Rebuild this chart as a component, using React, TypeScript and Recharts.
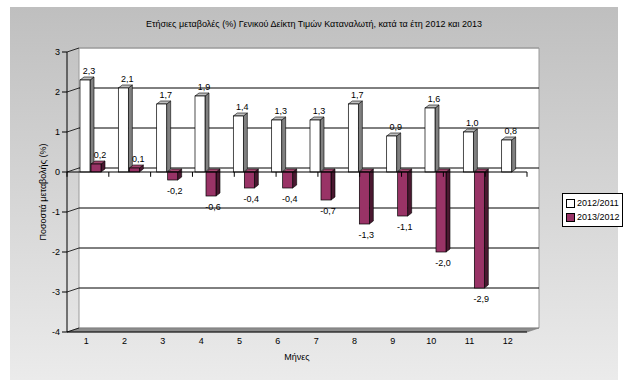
import React from 'react';
import {
  BarChart,
  Bar,
  XAxis,
  YAxis,
  CartesianGrid,
  ReferenceLine,
  Legend,
  LabelList,
} from 'recharts';

// Data
const months = ['1', '2', '3', '4', '5', '6', '7', '8', '9', '10', '11', '12'];
const change2012 = [2.3, 2.1, 1.7, 1.9, 1.4, 1.3, 1.3, 1.7, 0.9, 1.6, 1.0, 0.8];
const change2013 = [0.2, 0.1, -0.2, -0.6, -0.4, -0.4, -0.7, -1.3, -1.1, -2.0, -2.9, null];
const seriesNames = ['2012/2011', '2013/2012'];
const yTicks = [-4, -3, -2, -1, 0, 1, 2, 3];
const boundaryTicks = [0, 1, 2, 3, 4, 5, 6, 7, 8, 9, 10, 11, 12];

const title =
  'Ετήσιες μεταβολές (%) Γενικού Δείκτη Τιμών Καταναλωτή, κατά τα έτη 2012 και 2013';
const yLabel = 'Ποσοστά μεταβολής (%)';
const xLabel = 'Μήνες';

const data = months.map((m, i) => ({
  month: m,
  a: change2012[i],
  b: change2013[i],
}));

// Layout
const W = 630;
const H = 389;
const Y_AXIS_W = 30;
const X_AXIS_H = 30;
const margin = { top: 52, right: 103, bottom: 27, left: 37 };
const plot = {
  left: margin.left + Y_AXIS_W,
  top: margin.top,
  right: W - margin.right,
  bottom: H - margin.bottom - X_AXIS_H,
};
// depth of the back wall
const DX = 12;
const DY = -4;
// bar depth
const BD_X = 4;
const BD_Y = -3;
const SHIFT = 4;
// tick marks hanging under the zero line (in value units)
const ZERO_TICK = 0.12;

const FONT = '"Liberation Sans", Arial, sans-serif';

const fmt = (v: number) => v.toFixed(1).replace('.', ',');

const makeShape = (front: string, side: string, topFill: string) => (p: any) => {
  const { x, y, width, height } = p;
  if (!height || !isFinite(y)) return <g />;
  const t = Math.min(y, y + height);
  const b = Math.max(y, y + height);
  const l = x + SHIFT;
  const r = l + width;
  return (
    <g>
      <polygon
        points={`${r},${t} ${r + BD_X},${t + BD_Y} ${r + BD_X},${b + BD_Y} ${r},${b}`}
        fill={side}
        stroke="#000"
        strokeWidth={0.6}
      />
      <polygon
        points={`${l},${t} ${l + BD_X},${t + BD_Y} ${r + BD_X},${t + BD_Y} ${r},${t}`}
        fill={topFill}
        stroke="#000"
        strokeWidth={0.6}
      />
      <rect x={l} y={t} width={width} height={b - t} fill={front} stroke="#000" strokeWidth={0.7} />
    </g>
  );
};

const whiteBar = makeShape('#ffffff', '#808080', '#c0c0c0');
const purpleBar = makeShape('#993366', '#4a1830', '#a3476f');

const renderValue = (p: any) => {
  const { x, y, width, height, value } = p;
  if (value == null) return null;
  const t = Math.min(y, y + height);
  const b = Math.max(y, y + height);
  const neg = value < 0;
  const cx = x + SHIFT + width / 2 + (neg ? 2 : 4);
  const cy = neg ? b + 11 : t - 9;
  return (
    <text x={cx} y={cy} textAnchor="middle" dominantBaseline="central" fontSize={9} fontFamily={FONT} fill="#000">
      {fmt(value)}
    </text>
  );
};

const gridLine = (p: any) => {
  const { x1, x2, y1 } = p;
  const isTop = Math.abs(y1 - plot.top) < 1;
  const isBottom = Math.abs(y1 - plot.bottom) < 1;
  return (
    <g key={p.key}>
      {!isBottom && (
        <line
          x1={x1 + DX}
          x2={x2 + DX}
          y1={y1 + DY}
          y2={y1 + DY}
          stroke={isTop ? '#9a9a9a' : '#000'}
          strokeWidth={1}
        />
      )}
      <line x1={x1} y1={y1} x2={x1 + DX} y2={y1 + DY} stroke="#000" strokeWidth={0.8} />
    </g>
  );
};

const renderYLabel = (p: any) => {
  const vb = p.viewBox;
  const cx = vb.x + 6;
  const cy = vb.y + vb.height / 2;
  return (
    <text
      x={cx}
      y={cy}
      transform={`rotate(-90, ${cx}, ${cy})`}
      textAnchor="middle"
      dominantBaseline="central"
      fontSize={9}
      fontFamily={FONT}
      fill="#000"
    >
      {yLabel}
    </text>
  );
};

const renderLegend = () => (
  <div
    style={{
      border: '1px solid #000',
      background: '#fff',
      padding: '2px 2px 2px 3px',
      fontFamily: FONT,
      fontSize: 9,
      lineHeight: '14px',
      color: '#000',
    }}
  >
    {seriesNames.map((n, i) => (
      <div key={n} style={{ display: 'flex', alignItems: 'center' }}>
        <span
          style={{
            display: 'inline-block',
            width: 7,
            height: 7,
            border: '1px solid #000',
            background: i === 0 ? '#fff' : '#993366',
            marginRight: 2,
          }}
        />
        {n}
      </div>
    ))}
  </div>
);

const App = () => {
  return (
    <div style={{ position: 'absolute', left: 0, top: 0, width: W, height: H, background: '#fff' }}>
      {/* chart area background, back wall and floor */}
      <svg width={W} height={H} style={{ position: 'absolute', left: 0, top: 0 }}>
        <defs>
          <linearGradient id="bg" x1="0" y1="0" x2="0" y2="1">
            <stop offset="0%" stopColor="#bfbfbf" />
            <stop offset="100%" stopColor="#ebebeb" />
          </linearGradient>
        </defs>
        <rect x={10} y={7} width={608} height={373} fill="url(#bg)" />
        <polygon
          points={`${plot.left + DX},${plot.top + DY} ${plot.right + DX},${plot.top + DY} ${plot.right + DX},${plot.bottom + DY} ${plot.left + DX},${plot.bottom + DY}`}
          fill="#ffffff"
          stroke="#9a9a9a"
          strokeWidth={1}
        />
        <polygon
          points={`${plot.left},${plot.bottom} ${plot.right},${plot.bottom} ${plot.right + DX},${plot.bottom + DY} ${plot.left + DX},${plot.bottom + DY}`}
          fill="#8c8c8c"
          stroke="#7a7a7a"
          strokeWidth={0.6}
        />
        <text
          x={314}
          y={23}
          textAnchor="middle"
          dominantBaseline="central"
          fontSize={9.5}
          fontFamily={FONT}
          textLength={336}
          lengthAdjust="spacingAndGlyphs"
          fill="#000"
        >
          {title}
        </text>
        <text
          x={(plot.left + plot.right) / 2}
          y={357}
          textAnchor="middle"
          dominantBaseline="central"
          fontSize={9}
          fontFamily={FONT}
          fill="#000"
        >
          {xLabel}
        </text>
      </svg>
      <div style={{ position: 'absolute', left: 0, top: 0 }}>
        <BarChart width={W} height={H} data={data} margin={margin} barSize={10} barGap={1}>
          <CartesianGrid vertical={false} horizontal={gridLine} />
          <XAxis
            xAxisId="bounds"
            type="number"
            domain={[0, 12]}
            ticks={boundaryTicks}
            allowDataOverflow
            tick={false}
            axisLine={false}
            tickLine={{ stroke: '#000' }}
            tickSize={5}
            height={0}
          />
          <XAxis
            dataKey="month"
            height={X_AXIS_H}
            tickLine={false}
            axisLine={{ stroke: '#000' }}
            tick={{ fontSize: 9, fill: '#000', fontFamily: FONT }}
            tickSize={4}
            interval={0}
          />
          <YAxis
            domain={[-4, 3]}
            ticks={yTicks}
            width={Y_AXIS_W}
            allowDataOverflow
            axisLine={{ stroke: '#000' }}
            tickLine={{ stroke: '#000' }}
            tickSize={5}
            tick={{ fontSize: 9, fill: '#000', fontFamily: FONT }}
            label={{ content: renderYLabel }}
          />
          <ReferenceLine y={0} stroke="#000" strokeWidth={1.2} />
          {boundaryTicks.map((b) => (
            <ReferenceLine
              key={`zt-${b}`}
              xAxisId="bounds"
              segment={[
                { x: b, y: 0 },
                { x: b, y: -ZERO_TICK },
              ]}
              stroke="#000"
              strokeWidth={1}
            />
          ))}
          <Bar dataKey="a" name={seriesNames[0]} shape={whiteBar} isAnimationActive={false}>
            <LabelList dataKey="a" content={renderValue} />
          </Bar>
          <Bar dataKey="b" name={seriesNames[1]} shape={purpleBar} isAnimationActive={false}>
            <LabelList dataKey="b" content={renderValue} />
          </Bar>
          <Legend
            layout="vertical"
            align="center"
            verticalAlign="middle"
            content={renderLegend}
            wrapperStyle={{ position: 'absolute', left: 562, top: 193, width: 'auto' }}
          />
        </BarChart>
      </div>
    </div>
  );
};

export default App;
